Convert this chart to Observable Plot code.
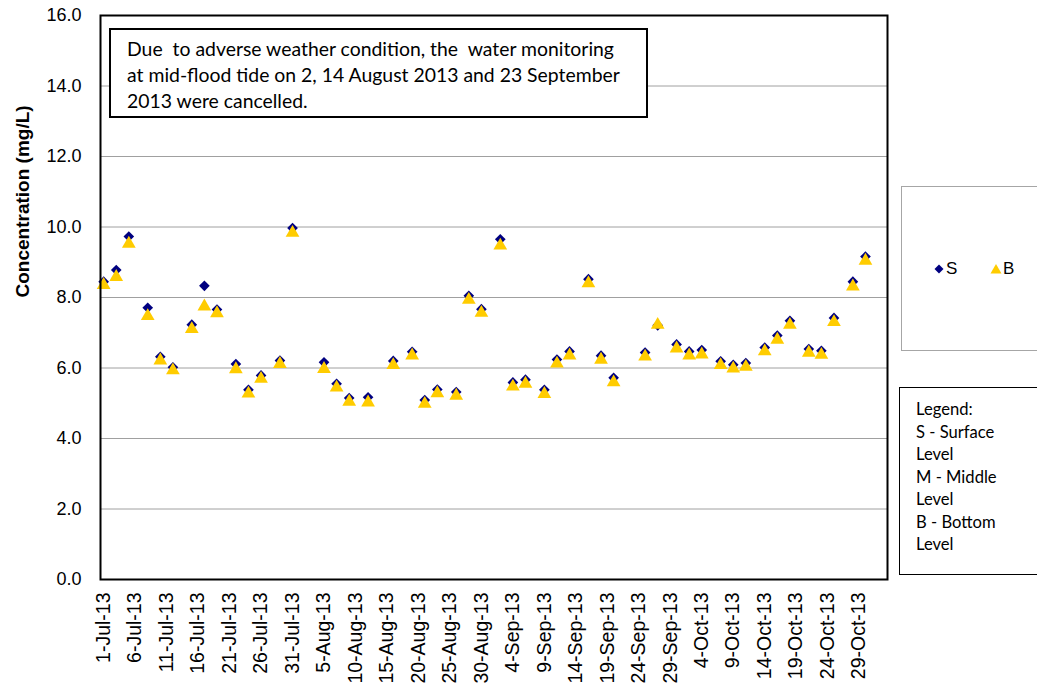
<!DOCTYPE html>
<html>
<head>
<meta charset="utf-8">
<script src="https://cdn.jsdelivr.net/npm/d3@7"></script>
<script src="https://cdn.jsdelivr.net/npm/@observablehq/plot@0.6"></script>
<style>
  html, body { margin: 0; padding: 0; background: white; }
  #wrap { position: relative; width: 1037px; height: 688px; overflow: hidden; }
  #note { position: absolute; left: 109px; top: 28px; width: 539px; height: 90px;
          border: 2px solid #000; background: #fff; font-family: Lato, "Open Sans", sans-serif;
          font-size: 19.4px; line-height: 26px; padding: 6px 0 0 16px; box-sizing: border-box; white-space: pre; color: #000; }
  #leg1 { position: absolute; left: 901px; top: 186px; width: 150px; height: 165px;
          border: 1px solid #a6a6a6; background: #fff; box-sizing: border-box;
          font-family: "Liberation Sans", Arial, sans-serif; font-size: 17px; }
  #leg1 .item { position: absolute; top: 72px; display: flex; align-items: center; }
  #leg2 { position: absolute; left: 899px; top: 387px; width: 150px; height: 188px;
          border: 1.5px solid #000; background: #fff; box-sizing: border-box;
          font-family: Lato, "Open Sans", sans-serif; font-size: 16.6px; line-height: 22.5px;
          padding: 10px 0 0 16px; color: #000; }
</style>
</head>
<body>
<div id="wrap"></div>
<script>
// ---- data ----
const dates = [
  "2013-07-01","2013-07-03","2013-07-05","2013-07-08","2013-07-10","2013-07-12","2013-07-15","2013-07-17","2013-07-19","2013-07-22","2013-07-24","2013-07-26","2013-07-29","2013-07-31",
  "2013-08-05","2013-08-07","2013-08-09","2013-08-12","2013-08-16","2013-08-19","2013-08-21","2013-08-23","2013-08-26","2013-08-28","2013-08-30",
  "2013-09-02","2013-09-04","2013-09-06","2013-09-09","2013-09-11","2013-09-13","2013-09-16","2013-09-18","2013-09-20","2013-09-25","2013-09-27","2013-09-30",
  "2013-10-02","2013-10-04","2013-10-07","2013-10-09","2013-10-11","2013-10-14","2013-10-16","2013-10-18","2013-10-21","2013-10-23","2013-10-25","2013-10-28","2013-10-30"
];
const surface = [
  8.45, 8.78, 9.73, 7.71, 6.32, 6.02, 7.23, 8.33, 7.66, 6.11, 5.38, 5.79, 6.21, 9.97,
  6.16, 5.55, 5.15, 5.17, 6.20, 6.46, 5.09, 5.39, 5.32, 8.05, 7.67,
  9.65, 5.59, 5.67, 5.38, 6.24, 6.47, 8.52, 6.35, 5.72, 6.44, 7.21, 6.67,
  6.47, 6.51, 6.19, 6.09, 6.14, 6.58, 6.92, 7.34, 6.54, 6.49, 7.42, 8.45, 9.16
];
const bottom = [
  8.41, 8.64, 9.58, 7.53, 6.27, 5.99, 7.16, 7.80, 7.61, 6.02, 5.33, 5.75, 6.17, 9.89,
  6.03, 5.50, 5.10, 5.08, 6.14, 6.41, 5.04, 5.34, 5.27, 7.99, 7.62,
  9.53, 5.53, 5.61, 5.32, 6.18, 6.41, 8.46, 6.29, 5.65, 6.38, 7.28, 6.61,
  6.41, 6.44, 6.14, 6.04, 6.09, 6.53, 6.86, 7.28, 6.49, 6.43, 7.36, 8.37, 9.10
];
const xTickLabels = ["1-Jul-13","6-Jul-13","11-Jul-13","16-Jul-13","21-Jul-13","26-Jul-13","31-Jul-13",
  "5-Aug-13","10-Aug-13","15-Aug-13","20-Aug-13","25-Aug-13","30-Aug-13","4-Sep-13","9-Sep-13",
  "14-Sep-13","19-Sep-13","24-Sep-13","29-Sep-13","4-Oct-13","9-Oct-13","14-Oct-13","19-Oct-13","24-Oct-13","29-Oct-13"];
const yTicks = [0, 2, 4, 6, 8, 10, 12, 14, 16];
const xDomain = ["2013-06-30T12:00Z", "2013-11-02T12:00Z"];
const yTitle = "Concentration (mg/L)";
const noteText = "Due  to adverse weather condition, the  water monitoring\nat mid-flood tide on 2, 14 August 2013 and 23 September\n2013 were cancelled.";
const legendLines = ["Legend:", "S - Surface", "Level", "M - Middle", "Level", "B - Bottom", "Level"];
const seriesNames = ["S", "B"];
const colors = {S: "#000080", B: "#FFCC00"};

// ---- build ----
const parseD = d3.utcParse("%Y-%m-%d");
const parseTick = d3.utcParse("%-d-%b-%y");
const data = dates.map((d, i) => ({date: parseD(d), S: surface[i], B: bottom[i]}));
const xTicks = xTickLabels.map(parseTick);
const fmt = d3.utcFormat("%-d-%b-%y");

const chart = Plot.plot({
  width: 1037,
  height: 688,
  marginLeft: 100,
  marginRight: 150,
  marginTop: 15,
  marginBottom: 109,
  style: {fontFamily: "'Liberation Sans', Arial, sans-serif", color: "#000", background: "#fff", overflow: "visible"},
  x: {type: "utc", domain: xDomain.map(d => new Date(d))},
  y: {domain: [0, 16]},
  marks: [
    Plot.gridY(yTicks.slice(1, -1), {stroke: "#a0a0a0", strokeOpacity: 1, strokeWidth: 1}),
    Plot.axisY(yTicks, {tickSize: 0, tickPadding: 19, tickFormat: d => d.toFixed(1), fontSize: 18, label: null}),
    Plot.axisX(xTicks, {tickSize: 0, tickRotate: -90, tickPadding: 13, tickFormat: fmt, fontSize: 19.5, label: null}),
    Plot.text([yTitle], {frameAnchor: "left", rotate: -90, dx: -78, fontWeight: "bold", fontSize: 19, text: d => d}),
    Plot.dot(data, {x: "date", y: "S", symbol: "diamond2", r: 4.8, fill: colors.S}),
    Plot.dot(data, {x: "date", y: "B", symbol: "triangle", r: 5.1, fill: colors.B, dy: 2}),
    Plot.frame({stroke: "#000", strokeWidth: 2})
  ]
});

const wrap = document.getElementById("wrap");
wrap.appendChild(chart);

const note = document.createElement("div");
note.id = "note";
note.textContent = noteText;
wrap.appendChild(note);

const leg1 = document.createElement("div");
leg1.id = "leg1";
const sym = {
  S: '<svg width="12" height="12" viewBox="-6 -6 12 12"><path d="M0,-4.5L4.5,0L0,4.5L-4.5,0Z" fill="' + colors.S + '"/></svg>',
  B: '<svg width="12" height="12" viewBox="-6 -6 12 12"><path d="M0,-5L5.5,4.5L-5.5,4.5Z" fill="' + colors.B + '"/></svg>'
};
const lefts = [31, 88];
seriesNames.forEach((s, i) => {
  const it = document.createElement("div");
  it.className = "item";
  it.style.left = lefts[i] + "px";
  it.innerHTML = sym[s] + '<span style="margin-left:1px">' + s + '</span>';
  leg1.appendChild(it);
});
wrap.appendChild(leg1);

const leg2 = document.createElement("div");
leg2.id = "leg2";
leg2.innerHTML = legendLines.map(l => "<div>" + l + "</div>").join("");
wrap.appendChild(leg2);
</script>
</body>
</html>
